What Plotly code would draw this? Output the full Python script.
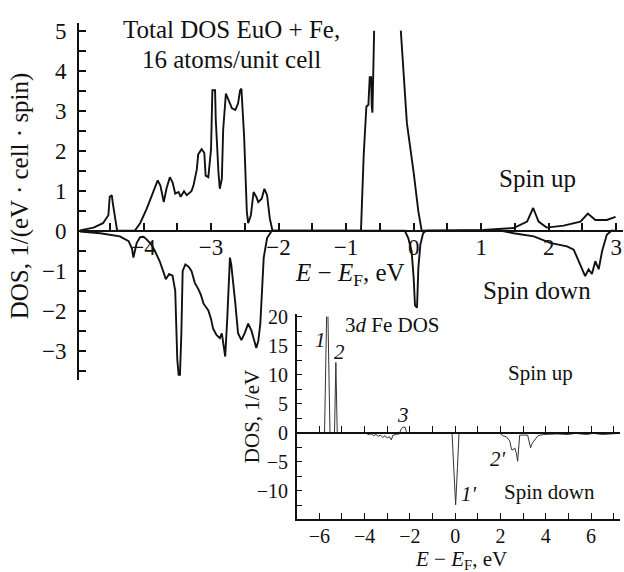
import plotly.graph_objects as go

W, H = 624, 572

# ---------------- main plot data (Total DOS) ----------------
up_x = [-4.94, -4.74, -4.60, -4.52, -4.50, -4.47, -4.45, -4.42, -4.39, -4.13, -4.05, -3.95, -3.85, -3.79,
        -3.75, -3.70, -3.66, -3.61, -3.57, -3.53, -3.48, -3.45, -3.40, -3.36, -3.29, -3.26, -3.21, -3.19,
        -3.14, -3.10, -3.08, -3.04, -3.00, -2.99, -2.98, -2.94, -2.93, -2.89, -2.87, -2.84, -2.82, -2.78,
        -2.74, -2.69, -2.64, -2.60, -2.57, -2.55, -2.51, -2.47, -2.45, -2.41, -2.37, -2.33, -2.30, -2.25,
        -2.21, -2.17, -2.13, -2.09,
        -0.78, -0.74, -0.70, -0.67, -0.65, -0.63, -0.62, -0.61, -0.585, None,
        -0.19, -0.15, -0.10, 0.00, 0.07, 0.12,
        1.03, 1.48, 1.68, 1.77, 1.85, 1.97, 2.22, 2.47, 2.58, 2.69, 2.86, 2.99]
up_y = [0.01, 0.08, 0.19, 0.39, 0.85, 0.89, 0.64, 0.31, 0.0, 0.0, 0.19, 0.56, 1.01, 1.26,
        1.13, 0.72, 1.05, 1.34, 1.21, 0.93, 0.97, 0.85, 0.99, 0.89, 0.99, 1.13, 1.54, 1.91,
        2.04, 1.95, 1.38, 1.34, 2.04, 2.78, 3.51, 3.51, 2.78, 1.46, 1.05, 1.30, 2.53, 3.43,
        3.27, 3.06, 3.02, 3.18, 3.51, 3.55, 2.36, 0.48, 0.19, 0.39, 0.97, 0.85, 0.72, 0.80,
        1.05, 0.89, 0.31, 0.0,
        0.0, 1.87, 3.10, 3.15, 3.84, 3.84, 3.10, 2.95, 5.0, None,
        5.0, 3.92, 2.69, 1.46, 0.48, 0.0,
        0.02, 0.07, 0.23, 0.57, 0.23, 0.08, 0.13, 0.23, 0.43, 0.27, 0.27, 0.35]

dn_x = [-4.94, -4.64, -4.35, -4.22, -4.17, -4.15, -4.12, -4.10, -4.05, -4.00, -3.95, -3.88, -3.83, -3.76,
        -3.70, -3.67, -3.62, -3.57, -3.53, -3.50, -3.48, -3.46, -3.44, -3.42, -3.38, -3.33, -3.29, -3.24,
        -3.19, -3.15, -3.11, -3.08, -3.04, -3.00, -2.97, -2.92, -2.87, -2.84, -2.81, -2.79, -2.76, -2.74,
        -2.72, -2.70, -2.67, -2.64, -2.60, -2.55, -2.50, -2.45, -2.40, -2.37, -2.33, -2.30, -2.27, -2.22,
        -2.17, -2.10,
        -0.13, -0.08, -0.03, 0.00, 0.02, 0.05, 0.07, 0.10, 0.14, 0.18,
        1.30, 1.48, 1.78, 2.02, 2.27, 2.37, 2.47, 2.54, 2.59, 2.64, 2.69, 2.74, 2.79, 2.86, 2.93, 3.0]
dn_y = [-0.02, -0.06, -0.14, -0.26, -0.45, -0.67, -0.45, -0.30, -0.16, -0.15, -0.22, -0.35, -0.51, -0.76,
        -1.05, -1.21, -1.08, -1.12, -1.50, -3.20, -3.60, -3.60, -2.60, -1.00, -0.84, -0.90, -1.00, -1.30,
        -1.45, -1.60, -1.82, -1.90, -1.99, -2.20, -2.44, -2.60, -2.68, -2.56, -2.90, -3.14, -2.20, -1.49,
        -0.67, -0.85, -1.30, -1.82, -2.56, -2.73, -2.55, -2.32, -2.50, -2.68, -2.93, -2.75, -2.32, -0.67,
        -0.18, 0.0,
        0.0, -0.18, -0.51, -1.17, -1.86, -1.92, -0.92, -0.34, -0.06, 0.0,
        0.0, -0.06, -0.14, -0.30, -0.39, -0.47, -0.84, -1.13, -0.96, -1.08, -0.76, -0.96, -0.51, -0.10, 0.0, 0.0]

# ---------------- inset data (3d Fe DOS) ----------------
in_up_x = [-7.0, -5.77, -5.68, None, -5.62, -5.53, -5.33, -5.27, -5.21, -2.45, -2.38, -2.30, -2.20, -2.16, -2.10, 7.25]
in_up_y = [0.0, 0.0, 20.0, None, 20.0, 0.0, 0.0, 12.1, 0.0, 0.0, 0.7, 1.0, 0.9, 0.2, 0.0, 0.0]

in_dn_x = [-7.0, -3.95, -3.85, -3.70, -3.60, -3.50, -3.40, -3.30, -3.20, -3.10, -3.00, -2.90, -2.82, -2.75,
           -2.60, -2.50, -2.30, -0.14, -0.05, 0.02, 0.10, 0.17, 1.95, 2.10, 2.26, 2.41, 2.49, 2.56, 2.63,
           2.70, 2.76, 2.80, 2.85, 3.20, 3.27, 3.33, 3.40, 3.52, 3.66, 3.90, 4.50, 5.00, 5.30, 5.80, 6.10,
           6.50, 7.00, 7.25]
in_dn_y = [0.0, 0.0, -0.3, -0.2, -0.5, -0.3, -0.6, -0.4, -0.8, -0.5, -0.9, -0.7, -1.24, -0.4,
           -0.3, -0.2, 0.0, 0.0, -6.0, -12.4, -6.0, 0.0, 0.0, -0.5, -0.7, -1.4, -2.9, -2.94, -2.6,
           -3.5, -4.9, -3.0, -0.4, -0.4, -1.5, -2.6, -1.8, -1.1, -0.5, -0.3, -0.2, -0.3, -0.1, -0.3, -0.1,
           -0.3, -0.1, -0.1]

# ---------------- layout geometry ----------------
def px(x):
    return x / W

def py(y):
    return 1 - y / H

main_xr = [-4.955, 3.10]
main_yr = [-3.72, 5.197]
main_xd = [px(79), px(623)]
main_yd = [py(377), py(15)]
main_zero = main_yd[0] + (0 - main_yr[0]) / (main_yr[1] - main_yr[0]) * (main_yd[1] - main_yd[0])

in_xr = [-7.0, 7.28]
in_yr = [-14.85, 20.5]
in_xd = [px(296.7), px(620)]
in_yd = [py(518.3), py(310)]
in_zero = in_yd[0] + (0 - in_yr[0]) / (in_yr[1] - in_yr[0]) * (in_yd[1] - in_yd[0])

SERIF = "Liberation Serif"
BLACK = "#111111"

fig = go.Figure()
fig.add_trace(go.Scatter(x=up_x, y=up_y, mode="lines", line=dict(color=BLACK, width=1.9),
                         xaxis="x", yaxis="y", showlegend=False, connectgaps=False))
fig.add_trace(go.Scatter(x=dn_x, y=dn_y, mode="lines", line=dict(color=BLACK, width=1.9),
                         xaxis="x", yaxis="y", showlegend=False))
fig.add_trace(go.Scatter(x=in_up_x, y=in_up_y, mode="lines", line=dict(color="#333333", width=1),
                         xaxis="x2", yaxis="y2", showlegend=False, connectgaps=False))
fig.add_trace(go.Scatter(x=in_dn_x, y=in_dn_y, mode="lines", line=dict(color="#333333", width=1),
                         xaxis="x3", yaxis="y2", showlegend=False))

tick_common = dict(showgrid=False, zeroline=False, showline=True, linecolor=BLACK,
                   ticks="inside", tickcolor=BLACK)
main_tf = dict(size=23, family=SERIF, color=BLACK)
in_tf = dict(size=20, family=SERIF, color=BLACK)

fig.update_layout(
    width=W, height=H,
    margin=dict(l=0, r=0, t=0, b=0),
    paper_bgcolor="white", plot_bgcolor="rgba(0,0,0,0)",
    font=dict(family=SERIF, color=BLACK),
    xaxis=dict(domain=main_xd, range=main_xr, anchor="free", position=main_zero,
               linewidth=2, tickmode="linear", tick0=0, dtick=1, ticklen=7, tickwidth=1.5,
               minor=dict(ticks="inside", dtick=0.5, tick0=0, ticklen=7, tickwidth=1.5, tickcolor=BLACK),
               tickfont=main_tf, ticklabelstandoff=-4, **tick_common),
    yaxis=dict(domain=main_yd, range=main_yr, anchor="x",
               linewidth=2, tickmode="linear", tick0=0, dtick=1, ticklen=7, tickwidth=1.5,
               minor=dict(ticks="inside", dtick=0.5, tick0=0, ticklen=7, tickwidth=1.5, tickcolor=BLACK),
               tickfont=main_tf, ticklabelstandoff=6, **tick_common),
    xaxis2=dict(domain=in_xd, range=in_xr, anchor="y2",
                linewidth=1.5, tickmode="linear", tick0=0, dtick=2, ticklen=6, tickwidth=1.2,
                minor=dict(ticks="inside", dtick=1, tick0=0, ticklen=6, tickwidth=1.2, tickcolor=BLACK),
                tickfont=in_tf, ticklabelstandoff=-2, **tick_common),
    xaxis3=dict(domain=in_xd, matches="x2", anchor="free", position=in_zero, overlaying="x2",
                linewidth=1.5, tickmode="linear", tick0=0, dtick=1, ticklen=6, tickwidth=1.2,
                showticklabels=False, **tick_common),
    yaxis2=dict(domain=in_yd, range=in_yr, anchor="x2",
                linewidth=1.5, tickmode="linear", tick0=0, dtick=5, ticklen=6, tickwidth=1.2,
                minor=dict(ticks="inside", dtick=2.5, tick0=0, ticklen=6, tickwidth=1.2, tickcolor=BLACK),
                tickfont=in_tf, ticklabelstandoff=3, **tick_common),
)

def note(text, x, y, size, angle=0):
    fig.add_annotation(text=text, x=px(x), y=py(y), xref="paper", yref="paper",
                       showarrow=False, xanchor="center", yanchor="middle",
                       textangle=angle, font=dict(size=size, family=SERIF, color=BLACK))

# main plot texts
note("Total DOS EuO + Fe,", 231, 22, 25)
note("16 atoms/unit cell", 231, 52, 25)
note("Spin up", 537, 173, 25)
note("Spin down", 537, 287, 25)
note("<i>E</i> − <i>E</i><sub>F</sub>, eV", 350, 270, 25)
note("DOS, 1/(eV · cell · spin)", 20, 191, 25, angle=-90)

# inset texts
note("3<i>d</i> Fe DOS", 392, 322, 21)
note("<i>1</i>", 320, 337, 21)
note("<i>2</i>", 339, 349, 21)
note("<i>3</i>", 403, 413, 21)
note("<i>2'</i>", 498, 457, 21)
note("<i>1'</i>", 469, 493, 21)
note("Spin up", 540, 370, 21)
note("Spin down", 549, 491, 21)
note("DOS, 1/eV", 252, 415, 21, angle=-90)
note("<i>E</i> − <i>E</i><sub>F</sub>, eV", 461, 560, 21)

fig.write_html("out.html")
